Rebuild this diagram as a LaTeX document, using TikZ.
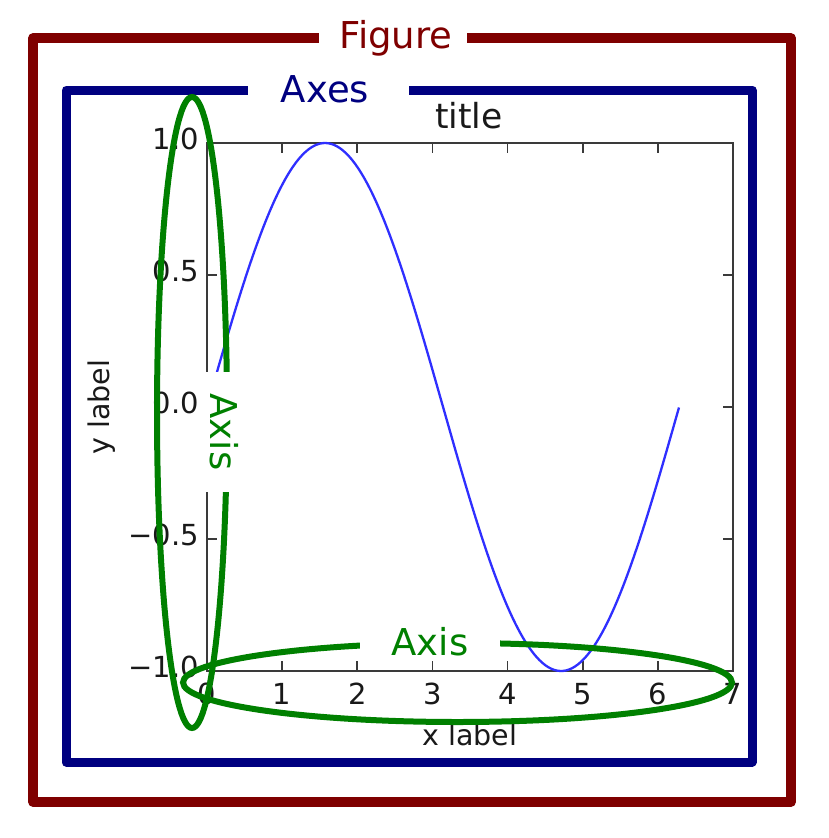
\documentclass[tikz,border=0pt]{standalone}
\usepackage{fontspec}
\setmainfont{DejaVu Sans}
\definecolor{figred}{HTML}{7F0000}
\definecolor{axnavy}{HTML}{000080}
\definecolor{axgreen}{HTML}{008000}
\definecolor{curveblue}{HTML}{2F2FFF}
\definecolor{spinegray}{HTML}{3A3A3A}
\tikzset{
  figframe/.style={draw=figred, line width=9.5pt, line join=round},
  axframe/.style={draw=axnavy, line width=9pt, line join=round},
  biglabel/.style={font=\fontsize{37}{40}\selectfont, inner sep=0pt, anchor=base},
  ticklab/.style={font=\fontsize{29}{32}\selectfont, text=black!90, inner sep=0pt},
  axlab/.style={font=\fontsize{28.5}{32}\selectfont, text=black!90, inner sep=0pt},
  spine/.style={draw=spinegray, line width=1.8pt},
  tickmark/.style={draw=spinegray, line width=1.8pt},
  curve/.style={draw=curveblue, line width=2.3pt},
  axisring/.style={draw=axgreen, line width=6pt},
  axislabel/.style={font=\fontsize{37}{40}\selectfont, text=axgreen, fill=white, anchor=base},
}
\begin{document}
\begin{tikzpicture}[x=1pt,y=-1pt]
\useasboundingbox[fill=white] (0,0) rectangle (828,838);

% Figure frame with gap for label
\coordinate (fgR) at (467,38);
\coordinate (fgL) at (319,38);
\draw[figframe] (fgR) -- (791,38) -- (791,802) -- (33,802) -- (33,38) -- (fgL);
\node[biglabel, text=figred] (figlabel) at (396,48) {Figure};

% Axes frame with gap for label
\coordinate (agR) at (409,90);
\coordinate (agL) at (248,90);
\draw[axframe] (agR) -- (752,90) -- (752,762) -- (66,762) -- (66,90) -- (agL);
\node[biglabel, text=axnavy] (axeslabel) at (325,102) {Axes};

% plot area
\coordinate (pTL) at (207,143);
\coordinate (pBR) at (733,671);
\draw[spine] (pTL) rectangle (pBR);

% x ticks
\foreach \t in {0,...,7} {
  \pgfmathsetmacro{\xx}{207+75.1428*\t}
  \draw[tickmark] (\xx,671) -- (\xx,661);
  \draw[tickmark] (\xx,143) -- (\xx,153);
  \node[ticklab, anchor=base] (xt\t) at (\xx,704) {\t};
}
% y ticks
\foreach \v/\lab [count=\i] in {1/1.0, 0.5/0.5, 0/0.0, -0.5/−0.5, -1/−1.0} {
  \pgfmathsetmacro{\yy}{407-264*\v}
  \draw[tickmark] (207,\yy) -- (217,\yy);
  \draw[tickmark] (733,\yy) -- (723,\yy);
  \node[ticklab, anchor=base east] (yt\i) at (199,\yy+6) {\lab};
}

% sine curve
\draw[curve] plot[domain=0:6.28318, samples=160, smooth] ({207+75.1428*\x},{407-264*sin(\x r)});

% titles and axis labels
\node[font=\fontsize{34.5}{38}\selectfont, text=black!90, inner sep=0pt, anchor=base] (title) at (469,128) {title};
\node[axlab, anchor=base] (xlabel) at (470,745) {x label};
\node[axlab, rotate=90] (ylabel) at (102,407) {y label};

% Axis rings
\draw[axisring] (192,412.5) ellipse [x radius=35, y radius=315.5];
\draw[axisring] (457.5,682.5) ellipse [x radius=274.5, y radius=39.5];

% Axis labels with white boxes
\node[axislabel, minimum width=140pt, inner ysep=3pt, inner xsep=0pt] (haxis) at (430,655) {Axis};
\node[axislabel, rotate=-90, minimum width=120pt, inner ysep=4pt, inner xsep=0pt] (vaxis) at (210,432) {Axis};
\end{tikzpicture}
\end{document}
